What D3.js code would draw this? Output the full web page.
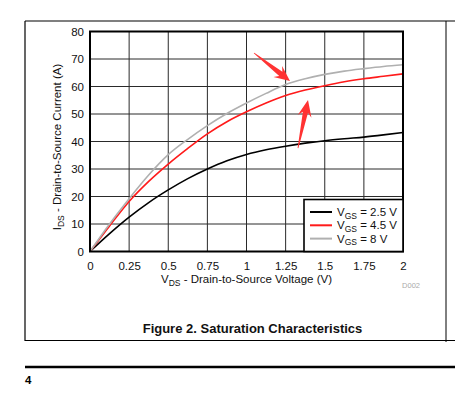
<!DOCTYPE html>
<html>
<head>
<meta charset="utf-8">
<script src="https://cdn.jsdelivr.net/npm/d3@7"></script>
<style>
  html, body { margin: 0; padding: 0; background: #fff; }
  svg { display: block; font-family: "Liberation Sans", Arial, sans-serif; }
</style>
</head>
<body>
<svg id="chart" width="455" height="399"></svg>
<script>
// ---- data ----
const vds = [0, 0.125, 0.25, 0.375, 0.5, 0.625, 0.75, 0.875, 1.0, 1.125, 1.25, 1.375, 1.5, 1.625, 1.75, 1.875, 2.0];
const ids_vgs25 = [0, 6.5, 12.5, 17.8, 22.4, 26.5, 30.0, 33.0, 35.3, 37.0, 38.3, 39.4, 40.3, 41.0, 41.6, 42.4, 43.3];
const ids_vgs45 = [0, 9.3, 18.2, 25.5, 31.8, 37.5, 42.8, 47.2, 50.8, 54.0, 56.7, 58.7, 60.3, 61.7, 62.8, 63.7, 64.6];
const ids_vgs8  = [0, 10.0, 19.2, 27.8, 35.2, 40.8, 45.8, 50.2, 54.0, 57.5, 60.7, 62.8, 64.4, 65.6, 66.5, 67.3, 67.9];
const seriesNames = ["2.5 V", "4.5 V", "8 V"];
const seriesColors = ["#000000", "#ff1a1a", "#b0b0b0"];
const xTicks = [0, 0.25, 0.5, 0.75, 1, 1.25, 1.5, 1.75, 2];
const yTicks = [0, 10, 20, 30, 40, 50, 60, 70, 80];
// annotation arrows in data coordinates: [tailV, tailI, tipV, tipI]
const arrows = [[1.048, 72.2, 1.278, 62.0], [1.329, 37.6, 1.393, 55.1]];

const svg = d3.select("#chart");
const plot = { left: 90, right: 403, top: 31.5, bottom: 251.5 };
const x = d3.scaleLinear().domain([0, 2]).range([plot.left, plot.right]);
const y = d3.scaleLinear().domain([0, 80]).range([plot.bottom, plot.top]);

// ---- page frame ----
const frame = svg.append("g").attr("stroke", "#000").attr("fill", "none");
frame.append("line").attr("x1", 25).attr("x2", 455).attr("y1", 21).attr("y2", 21).attr("stroke-width", 1.2);
frame.append("line").attr("x1", 25).attr("x2", 25).attr("y1", 21).attr("y2", 341).attr("stroke-width", 1.2);
frame.append("line").attr("x1", 25).attr("x2", 455).attr("y1", 340.5).attr("y2", 340.5).attr("stroke-width", 1.2);
frame.append("line").attr("x1", 446).attr("x2", 446).attr("y1", 21).attr("y2", 342).attr("stroke-width", 1);
frame.append("line").attr("x1", 25).attr("x2", 455).attr("y1", 367).attr("y2", 367).attr("stroke-width", 2.6);
svg.append("text").attr("x", 25).attr("y", 383.5).attr("font-size", 11.5).attr("font-weight", "bold").text("4");

// ---- grid ----
const grid = svg.append("g").attr("stroke", "#2a2a2a").attr("stroke-width", 1);
grid.selectAll(".gx").data(xTicks).join("line")
  .attr("x1", d => x(d)).attr("x2", d => x(d)).attr("y1", plot.top).attr("y2", plot.bottom);
grid.selectAll(".gy").data(yTicks).join("line")
  .attr("x1", plot.left).attr("x2", plot.right).attr("y1", d => y(d)).attr("y2", d => y(d));

// ---- axes ----
const xAxis = svg.append("g").attr("transform", `translate(0,${plot.bottom})`)
  .call(d3.axisBottom(x).tickValues(xTicks).tickSize(0).tickPadding(10.5).tickFormat(d3.format("")));
const yAxis = svg.append("g").attr("transform", `translate(${plot.left},0)`)
  .call(d3.axisLeft(y).tickValues(yTicks).tickSize(0).tickPadding(6));
[xAxis, yAxis].forEach(a => {
  a.select(".domain").remove();
  a.selectAll("text").attr("font-size", 11.5).attr("fill", "#111")
    .style("font-family", '"Liberation Sans", Arial, sans-serif');
});

// ---- curves ----
const series = [ids_vgs25, ids_vgs45, ids_vgs8];
const line = d3.line().x((d, i) => x(vds[i])).y(d => y(d)).curve(d3.curveMonotoneX);
svg.append("g").selectAll("path").data(series).join("path")
  .attr("d", d => line(d)).attr("fill", "none")
  .attr("stroke", (d, i) => seriesColors[i]).attr("stroke-width", 1.6);

// ---- plot border ----
svg.append("rect").attr("x", plot.left).attr("y", plot.top)
  .attr("width", plot.right - plot.left).attr("height", plot.bottom - plot.top)
  .attr("fill", "none").attr("stroke", "#000").attr("stroke-width", 2);

// ---- legend ----
const lg = svg.append("g");
lg.append("rect").attr("x", 304).attr("y", 199.5).attr("width", plot.right - 304).attr("height", plot.bottom - 199.5)
  .attr("fill", "#fff").attr("stroke", "#000").attr("stroke-width", 1.6);
seriesNames.forEach((name, i) => {
  const yy = 212 + i * 13.3;
  lg.append("line").attr("x1", 310).attr("x2", 332).attr("y1", yy).attr("y2", yy)
    .attr("stroke", seriesColors[i]).attr("stroke-width", 2);
  const t = lg.append("text").attr("x", 337).attr("y", yy + 4).attr("font-size", 11.5).attr("fill", "#111");
  t.append("tspan").text("V");
  t.append("tspan").attr("font-size", 8.5).attr("dy", 2.5).text("GS");
  t.append("tspan").attr("dy", -2.5).text(" = " + name);
});

// ---- axis titles ----
const xt = svg.append("text").attr("x", x(1)).attr("y", 282.5).attr("text-anchor", "middle")
  .attr("font-size", 11.5).attr("fill", "#111");
xt.append("tspan").text("V");
xt.append("tspan").attr("font-size", 8.5).attr("dy", 3).text("DS");
xt.append("tspan").attr("dy", -3).text(" - Drain-to-Source Voltage (V)");

const yt = svg.append("text").attr("transform", `translate(60.5,147) rotate(-90)`).attr("text-anchor", "middle")
  .attr("font-size", 11.5).attr("fill", "#111");
yt.append("tspan").text("I");
yt.append("tspan").attr("font-size", 8.5).attr("dy", 3).text("DS");
yt.append("tspan").attr("dy", -3).text(" - Drain-to-Source Current (A)");

svg.append("text").attr("x", 420).attr("y", 287.5).attr("text-anchor", "end")
  .attr("font-size", 7.5).attr("fill", "#aaa").text("D002");

// ---- figure caption ----
svg.append("text").attr("x", 252.5).attr("y", 332.5).attr("text-anchor", "middle")
  .attr("font-size", 13).attr("font-weight", "bold").attr("fill", "#111")
  .text("Figure 2. Saturation Characteristics");

// ---- red annotation arrows ----
function arrowPath(tx, ty, px, py) {
  const dx = px - tx, dy = py - ty, L = Math.hypot(dx, dy);
  const ux = dx / L, uy = dy / L, nx = -uy, ny = ux;
  const head = L * 0.34, hw = 7, sw = 2.6, tw = 0.4;
  const bx = px - ux * head, by = py - uy * head;
  const sx = px - ux * head * 0.75, sy = py - uy * head * 0.75;
  const pts = [
    [tx + nx * tw, ty + ny * tw],
    [sx + nx * sw, sy + ny * sw],
    [bx + nx * hw, by + ny * hw],
    [px, py],
    [bx - nx * hw, by - ny * hw],
    [sx - nx * sw, sy - ny * sw],
    [tx - nx * tw, ty - ny * tw]
  ];
  return "M" + pts.map(p => p.join(",")).join("L") + "Z";
}
svg.append("g").selectAll("path").data(arrows).join("path")
  .attr("d", a => arrowPath(x(a[0]), y(a[1]), x(a[2]), y(a[3])))
  .attr("fill", "#ff3333").attr("stroke", "none");
</script>
</body>
</html>
